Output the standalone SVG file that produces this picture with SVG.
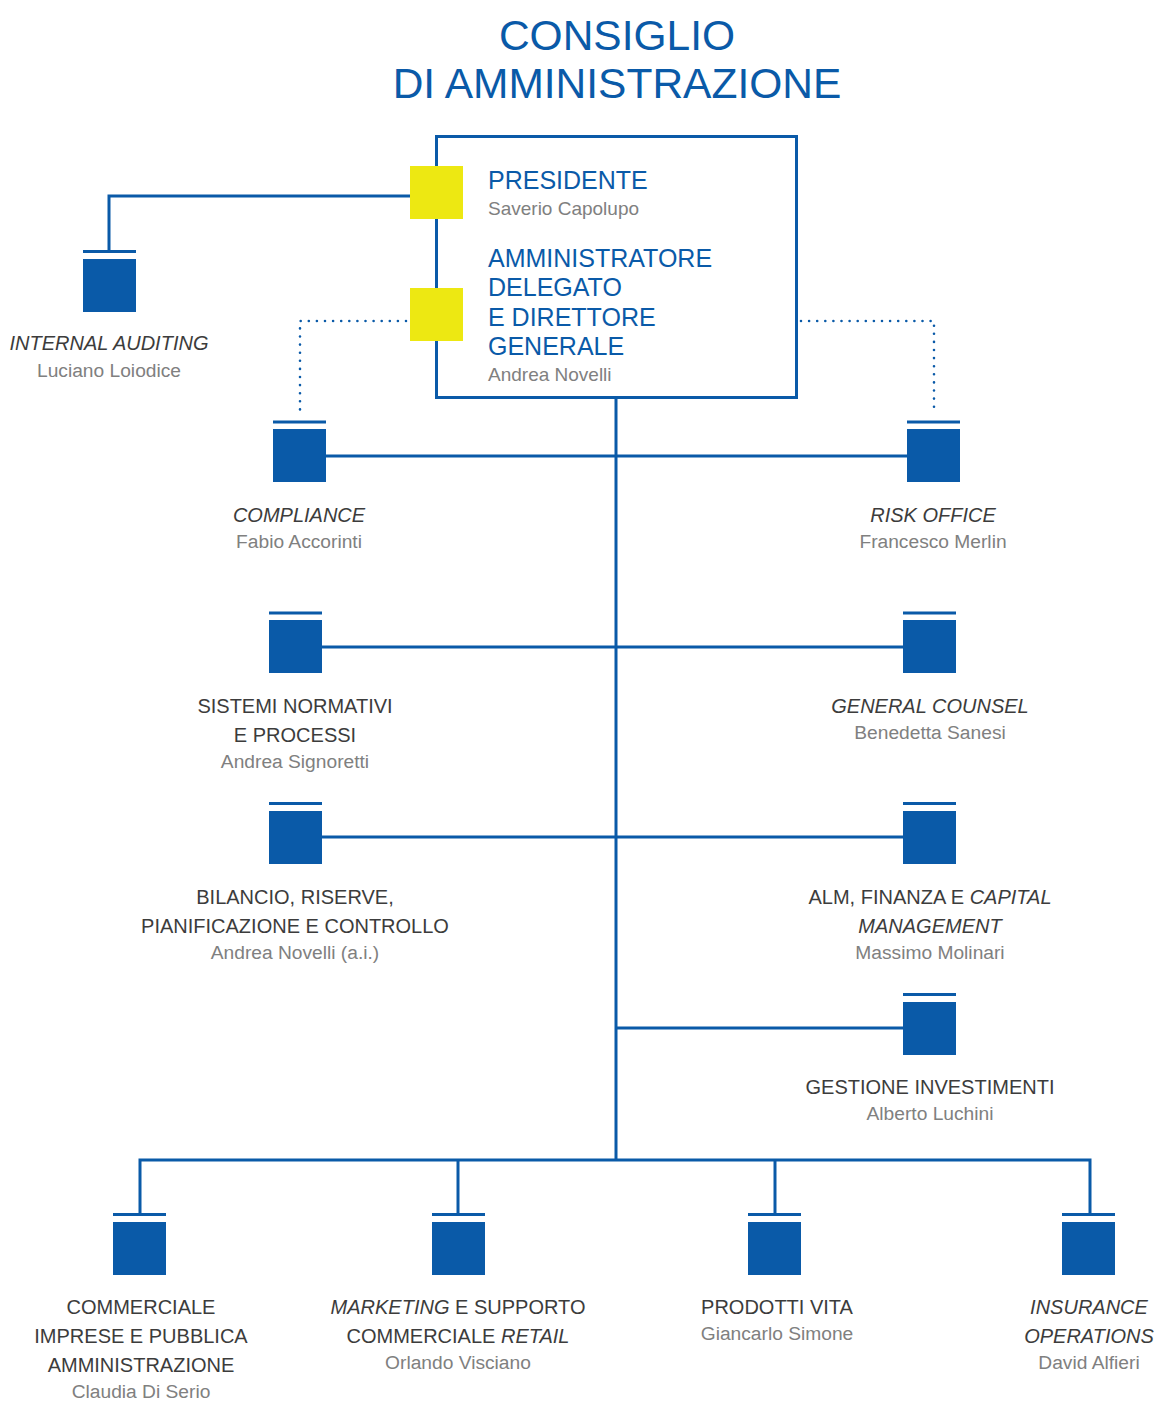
<svg xmlns="http://www.w3.org/2000/svg" width="1155" height="1401" viewBox="0 0 1155 1401">
<style>
text{font-family:"Liberation Sans",Arial,Helvetica,sans-serif}
.t{fill:#0a5aa8;font-size:42.5px;text-anchor:middle}
.h{fill:#0a5aa8;font-size:25px}
.l{fill:#3c3c3c;font-size:20px;text-anchor:middle}
.n{fill:#808080;font-size:19.2px;text-anchor:middle}
.nl{fill:#808080;font-size:19px}
.i{font-style:italic}
.sq{fill:#0a5aa8}
.bar{fill:#0a5aa8}
.yl{fill:#ede812}
.ln{stroke:#0a5aa8;stroke-width:3;fill:none}
.dt{stroke:#0a5aa8;stroke-width:2.6;fill:none;stroke-dasharray:0 8.1;stroke-linecap:round}
</style>
<rect width="1155" height="1401" fill="#fff"/>
<g id="title">
<text class="t" x="617" y="50">CONSIGLIO</text>
<text class="t" x="617" y="98">DI AMMINISTRAZIONE</text>
</g>
<g id="connectors">
<polyline class="ln" points="410,196 109,196 109,251"/>
<polyline class="dt" points="406,321 300,321 300,414"/>
<polyline class="dt" points="801,321 934,321 934,414"/>
<line class="ln" x1="616" y1="398" x2="616" y2="1160"/>
<line class="ln" x1="326" y1="456" x2="907" y2="456"/>
<line class="ln" x1="322" y1="647" x2="903" y2="647"/>
<line class="ln" x1="322" y1="837" x2="903" y2="837"/>
<line class="ln" x1="616" y1="1028" x2="903" y2="1028"/>
<polyline class="ln" points="140,1214 140,1160 1090,1160 1090,1214"/>
<line class="ln" x1="458" y1="1160" x2="458" y2="1214"/>
<line class="ln" x1="775" y1="1160" x2="775" y2="1214"/>
</g>
<g id="top-box">
<rect x="436.5" y="136.5" width="360" height="261" fill="none" stroke="#0a5aa8" stroke-width="3"/>
<rect class="yl" x="410" y="166" width="53" height="53"/>
<rect class="yl" x="410" y="288" width="53" height="53"/>
<text class="h" x="488" y="189">PRESIDENTE</text>
<text class="nl" x="488" y="215">Saverio Capolupo</text>
<text class="h" x="488" y="267">AMMINISTRATORE</text>
<text class="h" x="488" y="296">DELEGATO</text>
<text class="h" x="488" y="326">E DIRETTORE</text>
<text class="h" x="488" y="355">GENERALE</text>
<text class="nl" x="488" y="381">Andrea Novelli</text>
</g>
<g id="internal-auditing">
<rect class="bar" x="83" y="250" width="53" height="3"/>
<rect class="sq" x="83" y="259" width="53" height="53"/>
<text class="l i" x="109" y="350">INTERNAL AUDITING</text>
<text class="n" x="109" y="377">Luciano Loiodice</text>
</g>
<g id="compliance">
<rect class="bar" x="273" y="420.5" width="53" height="3"/>
<rect class="sq" x="273" y="429" width="53" height="53"/>
<text class="l i" x="299" y="522">COMPLIANCE</text>
<text class="n" x="299" y="548">Fabio Accorinti</text>
</g>
<g id="risk-office">
<rect class="bar" x="907" y="420.5" width="53" height="3"/>
<rect class="sq" x="907" y="429" width="53" height="53"/>
<text class="l i" x="933" y="522">RISK OFFICE</text>
<text class="n" x="933" y="548">Francesco Merlin</text>
</g>
<g id="sistemi-normativi">
<rect class="bar" x="269" y="611.5" width="53" height="3"/>
<rect class="sq" x="269" y="620" width="53" height="53"/>
<text class="l" x="295" y="713">SISTEMI NORMATIVI</text>
<text class="l" x="295" y="742">E PROCESSI</text>
<text class="n" x="295" y="768">Andrea Signoretti</text>
</g>
<g id="general-counsel">
<rect class="bar" x="903" y="611.5" width="53" height="3"/>
<rect class="sq" x="903" y="620" width="53" height="53"/>
<text class="l i" x="930" y="713">GENERAL COUNSEL</text>
<text class="n" x="930" y="739">Benedetta Sanesi</text>
</g>
<g id="bilancio">
<rect class="bar" x="269" y="802" width="53" height="3"/>
<rect class="sq" x="269" y="811" width="53" height="53"/>
<text class="l" x="295" y="904">BILANCIO, RISERVE,</text>
<text class="l" x="295" y="933">PIANIFICAZIONE E CONTROLLO</text>
<text class="n" x="295" y="959">Andrea Novelli (a.i.)</text>
</g>
<g id="alm-finanza">
<rect class="bar" x="903" y="802" width="53" height="3"/>
<rect class="sq" x="903" y="811" width="53" height="53"/>
<text class="l" x="930" y="904">ALM, FINANZA E <tspan class="i">CAPITAL</tspan></text>
<text class="l i" x="930" y="933">MANAGEMENT</text>
<text class="n" x="930" y="959">Massimo Molinari</text>
</g>
<g id="gestione-investimenti">
<rect class="bar" x="903" y="993" width="53" height="3"/>
<rect class="sq" x="903" y="1002" width="53" height="53"/>
<text class="l" x="930" y="1094">GESTIONE INVESTIMENTI</text>
<text class="n" x="930" y="1120">Alberto Luchini</text>
</g>
<g id="commerciale-imprese">
<rect class="bar" x="113" y="1213" width="53" height="3"/>
<rect class="sq" x="113" y="1222" width="53" height="53"/>
<text class="l" x="141" y="1314">COMMERCIALE</text>
<text class="l" x="141" y="1343">IMPRESE E PUBBLICA</text>
<text class="l" x="141" y="1372">AMMINISTRAZIONE</text>
<text class="n" x="141" y="1398">Claudia Di Serio</text>
</g>
<g id="marketing">
<rect class="bar" x="432" y="1213" width="53" height="3"/>
<rect class="sq" x="432" y="1222" width="53" height="53"/>
<text class="l" x="458" y="1314"><tspan class="i">MARKETING</tspan> E SUPPORTO</text>
<text class="l" x="458" y="1343">COMMERCIALE <tspan class="i">RETAIL</tspan></text>
<text class="n" x="458" y="1369">Orlando Visciano</text>
</g>
<g id="prodotti-vita">
<rect class="bar" x="748" y="1213" width="53" height="3"/>
<rect class="sq" x="748" y="1222" width="53" height="53"/>
<text class="l" x="777" y="1314">PRODOTTI VITA</text>
<text class="n" x="777" y="1340">Giancarlo Simone</text>
</g>
<g id="insurance-operations">
<rect class="bar" x="1062" y="1213" width="53" height="3"/>
<rect class="sq" x="1062" y="1222" width="53" height="53"/>
<text class="l i" x="1089" y="1314">INSURANCE</text>
<text class="l i" x="1089" y="1343">OPERATIONS</text>
<text class="n" x="1089" y="1369">David Alfieri</text>
</g>
</svg>
